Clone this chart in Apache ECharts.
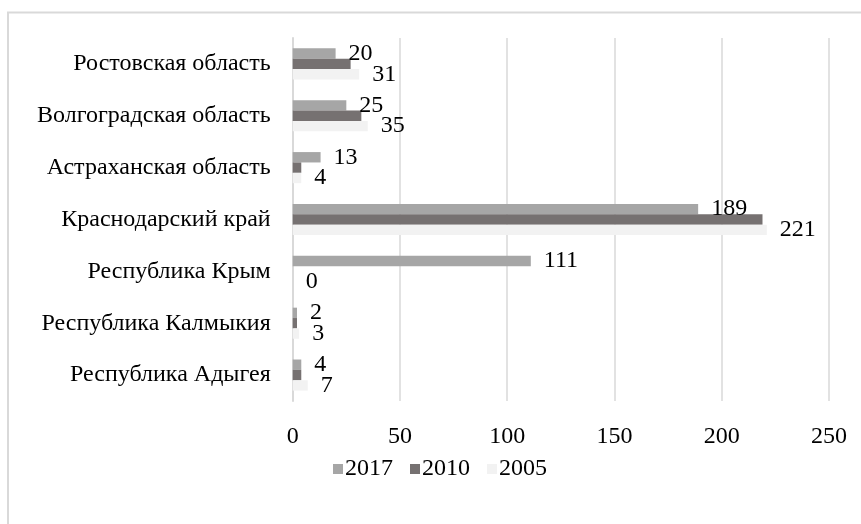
<!DOCTYPE html>
<html><head><meta charset="utf-8">
<script src="https://cdn.jsdelivr.net/npm/echarts@6/dist/echarts.min.js"></script>
<style>html,body{margin:0;padding:0;background:#fff}#c{width:861px;height:524px}</style>
</head><body><div id="c"></div>
<script>
const categories = ['Республика Адыгея','Республика Калмыкия','Республика Крым','Краснодарский край','Астраханская область','Волгоградская область','Ростовская область'];
const s2017 = [4, 2, 111, 189, 13, 25, 20];
const s2010 = [4, 2, 0, 219, 4, 32, 27];
const s2005 = [7, 3, 0, 221, 4, 35, 31];
const xTicks = [0, 50, 100, 150, 200, 250];

const font = 'Liberation Serif';
const fs = 24;
const chart = echarts.init(document.getElementById('c'), null, {renderer:'canvas'});
const lbl = {show:true, position:'right', distance:13, color:'#000', fontFamily:font, fontSize:fs};
chart.setOption({
  animation:false,
  graphic:[{type:'rect', shape:{x:8, y:12.5, width:900, height:600}, style:{fill:null, stroke:'#d9d9d9', lineWidth:2}, silent:true}],
  grid:{left:292.7, right:32, top:38, bottom:123},
  legend:{top:452, left:328, icon:'rect', itemWidth:10, itemHeight:10, itemGap:17,
    textStyle:{fontFamily:font, fontSize:fs, color:'#000', padding:[0,0,0,-3]}, data:['2017','2010','2005']},
  xAxis:{type:'value', min:xTicks[0], max:xTicks[xTicks.length-1], interval:50,
    axisLine:{show:false}, axisTick:{show:false},
    splitLine:{lineStyle:{color:'#d9d9d9', width:1.5}},
    axisLabel:{fontFamily:font, fontSize:fs, color:'#000', margin:24}},
  yAxis:{type:'category', data:categories,
    axisLine:{lineStyle:{color:'#d9d9d9', width:2}}, axisTick:{show:false},
    axisLabel:{fontFamily:font, fontSize:fs, color:'#000', margin:22}},
  series:[
    {name:'2017', type:'bar', data:s2017, itemStyle:{color:'#a6a6a6'}, barGap:'0%', barCategoryGap:'40%', label:lbl},
    {name:'2010', type:'bar', data:s2010, itemStyle:{color:'#767171'}, barGap:'0%', barCategoryGap:'40%'},
    {name:'2005', type:'bar', data:s2005, itemStyle:{color:'#f2f2f2'}, barGap:'0%', barCategoryGap:'40%', label:lbl}
  ]
});
</script></body></html>
